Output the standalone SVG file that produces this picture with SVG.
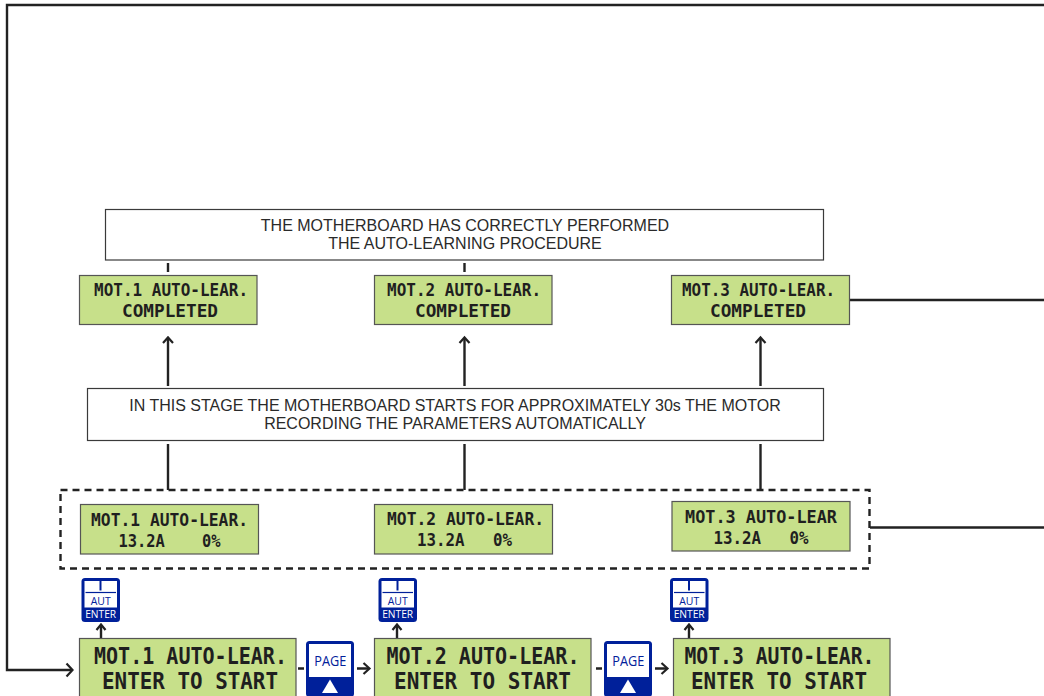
<svg xmlns="http://www.w3.org/2000/svg" width="1044" height="696" viewBox="0 0 1044 696">
<style>
.w{fill:#fff;stroke:#3a3a3a;stroke-width:1.2}
.g{fill:#c7e08a;stroke:#555;stroke-width:1.2}
.t{font-family:"Liberation Sans",Arial,sans-serif;font-size:16px;fill:#2a2a2a;text-anchor:middle}
.l{font-family:"DejaVu Sans Mono","Liberation Mono",monospace;font-weight:bold;font-size:18px;fill:#1f1f1f;white-space:pre}
.L{font-family:"DejaVu Sans Mono","Liberation Mono",monospace;font-weight:bold;font-size:22.500px;fill:#1f1f1f}
.c{fill:none;stroke:#222;stroke-width:2.4}
.h{fill:none;stroke:#222;stroke-width:2.2}
.b{fill:#00209a}
.k{font-family:"Open Sans","Noto Sans",sans-serif}
</style>
<defs>
<g id="aut">
<rect class="b" x="0" y="0" width="38.500" height="44" rx="3.500"/>
<rect x="3" y="3" width="32.500" height="26.500" fill="#fff"/>
<path d="M19 3V12.500" stroke="#00209a" stroke-width="2" fill="none"/>
<path d="M4 14.500H34.500" stroke="#00209a" stroke-width="1.200" fill="none"/>
<text class="k" x="9.200" y="27" font-size="11" fill="#00209a" textLength="20" lengthAdjust="spacingAndGlyphs">AUT</text>
<text class="k" x="3.700" y="40" font-size="11" fill="#fff" textLength="31" lengthAdjust="spacingAndGlyphs">ENTER</text>
</g>
<g id="page">
<rect class="b" x="0" y="0" width="48" height="56" rx="3.500"/>
<rect x="3" y="3" width="42" height="33" fill="#fff"/>
<text class="k" x="8.300" y="25" font-size="15" fill="#00209a" textLength="32" lengthAdjust="spacingAndGlyphs">PAGE</text>
<path d="M16 52L24 38.500L32 52Z" fill="#fff"/>
</g>
</defs>
<g id="connectors">
<path class="c" d="M1044 5H7V670H72"/>
<path class="h" d="M66.500 663.500L72.500 670L66.500 676.500"/>
<path class="c" d="M168 263V272M464.500 263V272"/>
<path class="c" d="M168 386V338M464.500 386V338M760.500 386V338"/>
<path class="h" d="M163 343L168 337.500L173 343M459.500 343L464.500 337.500L469.500 343M755.500 343L760.500 337.500L765.500 343"/>
<path class="c" d="M168 444V490M464.500 444V490M760.500 444V490"/>
<path class="c" d="M850 300H1044M870 527.500H1044"/>
<path class="c" d="M101 638V625M397 638V625M689 638V625"/>
<path class="h" d="M96.500 630L101 624.500L105.500 630M392.500 630L397 624.500L401.500 630M684.500 630L689 624.500L693.500 630"/>
<path class="c" d="M298 668.500H304M596 668.500H602"/>
<path class="c" d="M357 668.500H368M655 668.500H666"/>
<path class="h" d="M363.500 663L369.500 668.500L363.500 674M661.500 663L667.500 668.500L661.500 674"/>
</g>
<g id="note-top"><rect class="w" x="105.500" y="209.500" width="718" height="50.500"/>
<text class="t" x="465" y="231">THE MOTHERBOARD HAS CORRECTLY PERFORMED</text>
<text class="t" x="465" y="249">THE AUTO-LEARNING PROCEDURE</text></g>
<g id="done-1"><rect class="g" x="79.500" y="275.500" width="177.500" height="49"/>
<text class="l" x="94" y="296" textLength="154" lengthAdjust="spacingAndGlyphs">MOT.1 AUTO-LEAR.</text><text class="l" x="122" y="317" textLength="96" lengthAdjust="spacingAndGlyphs">COMPLETED</text></g>
<g id="done-2"><rect class="g" x="374.500" y="275.500" width="177.500" height="49"/>
<text class="l" x="387" y="296" textLength="154" lengthAdjust="spacingAndGlyphs">MOT.2 AUTO-LEAR.</text><text class="l" x="415" y="317" textLength="96" lengthAdjust="spacingAndGlyphs">COMPLETED</text></g>
<g id="done-3"><rect class="g" x="671.500" y="275.500" width="178" height="49"/>
<text class="l" x="682" y="296" textLength="153" lengthAdjust="spacingAndGlyphs">MOT.3 AUTO-LEAR.</text><text class="l" x="710" y="317" textLength="96" lengthAdjust="spacingAndGlyphs">COMPLETED</text></g>
<g id="note-mid"><rect class="w" x="87.500" y="388.500" width="736" height="52"/>
<text class="t" x="455" y="411">IN THIS STAGE THE MOTHERBOARD STARTS FOR APPROXIMATELY 30s THE MOTOR</text>
<text class="t" x="455" y="429">RECORDING THE PARAMETERS AUTOMATICALLY</text></g>
<g id="running-group"><rect x="60.500" y="490" width="809" height="78.500" fill="none" stroke="#222" stroke-width="2.400" stroke-dasharray="7 5"/></g>
<g id="run-1"><rect class="g" x="80.500" y="504.500" width="178" height="49.500"/>
<text class="l" x="91" y="525.500" textLength="157" lengthAdjust="spacingAndGlyphs">MOT.1 AUTO-LEAR.</text><text class="l" x="118.500" y="546.500" textLength="102" lengthAdjust="spacingAndGlyphs">13.2A    0%</text></g>
<g id="run-2"><rect class="g" x="374.500" y="504.500" width="178" height="49.500"/>
<text class="l" x="387" y="525" textLength="157" lengthAdjust="spacingAndGlyphs">MOT.2 AUTO-LEAR.</text><text class="l" x="417" y="546" textLength="95" lengthAdjust="spacingAndGlyphs">13.2A   0%</text></g>
<g id="run-3"><rect class="g" x="672" y="501.500" width="178" height="49.500"/>
<text class="l" x="685" y="522.500" textLength="152" lengthAdjust="spacingAndGlyphs">MOT.3 AUTO-LEAR</text><text class="l" x="713.500" y="543.500" textLength="95" lengthAdjust="spacingAndGlyphs">13.2A   0%</text></g>
<g id="enter-1"><use href="#aut" x="81.500" y="578"/></g>
<g id="enter-2"><use href="#aut" x="378.500" y="578"/></g>
<g id="enter-3"><use href="#aut" x="670" y="578"/></g>
<g id="start-1"><rect class="g" x="79.500" y="638.500" width="216.500" height="60"/>
<text class="L" x="94" y="664" textLength="193" lengthAdjust="spacingAndGlyphs">MOT.1 AUTO-LEAR.</text><text class="L" x="102" y="689" textLength="176" lengthAdjust="spacingAndGlyphs">ENTER TO START</text></g>
<g id="start-2"><rect class="g" x="374.500" y="638.500" width="216.500" height="60"/>
<text class="L" x="386.500" y="664" textLength="193" lengthAdjust="spacingAndGlyphs">MOT.2 AUTO-LEAR.</text><text class="L" x="394" y="689" textLength="177" lengthAdjust="spacingAndGlyphs">ENTER TO START</text></g>
<g id="start-3"><rect class="g" x="673.500" y="638.500" width="216.500" height="60"/>
<text class="L" x="684.500" y="664" textLength="190" lengthAdjust="spacingAndGlyphs">MOT.3 AUTO-LEAR.</text><text class="L" x="691" y="689" textLength="176" lengthAdjust="spacingAndGlyphs">ENTER TO START</text></g>
<g id="page-1"><use href="#page" x="306" y="641"/></g>
<g id="page-2"><use href="#page" x="604" y="641"/></g>
</svg>
